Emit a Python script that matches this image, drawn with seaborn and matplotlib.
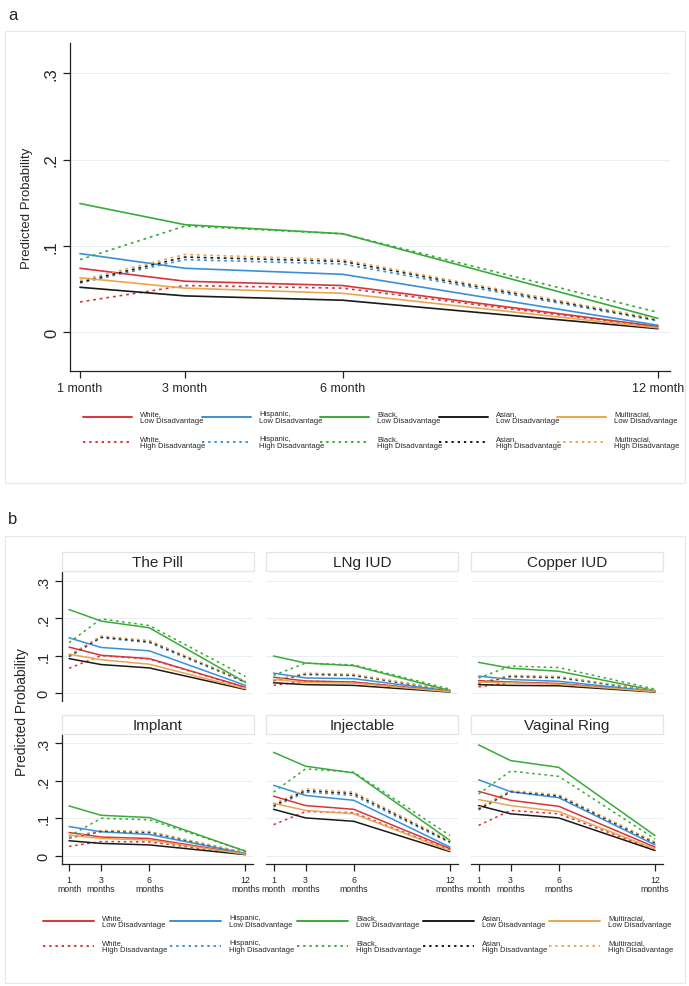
import numpy as np
import pandas as pd
import seaborn as sns
import matplotlib
matplotlib.use("Agg")
import matplotlib.pyplot as plt
from matplotlib.lines import Line2D
from matplotlib.patches import Rectangle

sns.set_theme(style="white")
plt.rcParams['font.family'] = ['Liberation Sans', 'DejaVu Sans']

# ---------------- data ----------------
months = [1, 3, 6, 12]
races = ["White", "Hispanic", "Black", "Asian", "Multiracial"]
levels = ["Low", "High"]
panel_a_ticklabels = ["1 month", "3 month", "6 month", "12 month"]
panel_b_ticklabels = ["1\nmonth", "3\nmonths", "6\nmonths", "12\nmonths"]
y_ticks = [0, 0.1, 0.2, 0.3]
y_ticklabels = ["0", ".1", ".2", ".3"]

# panel a (any method)
a_low = {
    "White":       [0.074, 0.059, 0.054, 0.0065],
    "Hispanic":    [0.091, 0.074, 0.067, 0.008],
    "Black":       [0.149, 0.1245, 0.114, 0.016],
    "Asian":       [0.052, 0.042, 0.037, 0.004],
    "Multiracial": [0.063, 0.051, 0.045, 0.005],
}
a_high = {
    "White":       [0.035, 0.054, 0.051, 0.006],
    "Hispanic":    [0.057, 0.084, 0.079, 0.013],
    "Black":       [0.084, 0.123, 0.114, 0.023],
    "Asian":       [0.058, 0.087, 0.082, 0.014],
    "Multiracial": [0.060, 0.090, 0.084, 0.015],
}

methods = ["The Pill", "LNg IUD", "Copper IUD", "Implant", "Injectable", "Vaginal Ring"]

pill_low = {"White": [0.123, 0.101, 0.092, 0.015], "Hispanic": [0.148, 0.122, 0.113, 0.020],
            "Black": [0.224, 0.193, 0.175, 0.028], "Asian": [0.092, 0.076, 0.067, 0.009],
            "Multiracial": [0.104, 0.089, 0.077, 0.011]}
pill_high = {"White": [0.066, 0.100, 0.091, 0.014], "Hispanic": [0.097, 0.148, 0.135, 0.028],
             "Black": [0.135, 0.199, 0.181, 0.044], "Asian": [0.099, 0.150, 0.138, 0.030],
             "Multiracial": [0.101, 0.153, 0.141, 0.031]}

lng_low = {"White": [0.042, 0.032, 0.029, 0.004], "Hispanic": [0.053, 0.040, 0.038, 0.005],
           "Black": [0.099, 0.080, 0.073, 0.006], "Asian": [0.027, 0.022, 0.020, 0.002],
           "Multiracial": [0.036, 0.028, 0.026, 0.003]}
lng_high = {"White": [0.020, 0.031, 0.029, 0.003], "Hispanic": [0.032, 0.049, 0.046, 0.006],
            "Black": [0.047, 0.080, 0.075, 0.010], "Asian": [0.033, 0.051, 0.048, 0.007],
            "Multiracial": [0.034, 0.053, 0.050, 0.007]}

copper_low = {"White": [0.033, 0.029, 0.025, 0.003], "Hispanic": [0.045, 0.036, 0.031, 0.004],
              "Black": [0.082, 0.066, 0.058, 0.006], "Asian": [0.022, 0.020, 0.019, 0.002],
              "Multiracial": [0.029, 0.027, 0.023, 0.003]}
copper_high = {"White": [0.016, 0.028, 0.024, 0.003], "Hispanic": [0.026, 0.043, 0.040, 0.005],
               "Black": [0.040, 0.072, 0.068, 0.010], "Asian": [0.027, 0.045, 0.042, 0.006],
               "Multiracial": [0.028, 0.047, 0.044, 0.006]}

implant_low = {"White": [0.062, 0.050, 0.046, 0.005], "Hispanic": [0.078, 0.064, 0.057, 0.006],
               "Black": [0.133, 0.108, 0.102, 0.012], "Asian": [0.040, 0.033, 0.029, 0.003],
               "Multiracial": [0.055, 0.046, 0.042, 0.004]}
implant_high = {"White": [0.025, 0.038, 0.037, 0.004], "Hispanic": [0.047, 0.064, 0.061, 0.007],
                "Black": [0.052, 0.100, 0.096, 0.013], "Asian": [0.048, 0.066, 0.063, 0.008],
                "Multiracial": [0.049, 0.068, 0.065, 0.008]}

inject_low = {"White": [0.159, 0.134, 0.124, 0.019], "Hispanic": [0.188, 0.161, 0.148, 0.023],
              "Black": [0.276, 0.239, 0.221, 0.041], "Asian": [0.124, 0.101, 0.092, 0.011],
              "Multiracial": [0.140, 0.121, 0.112, 0.013]}
inject_high = {"White": [0.083, 0.118, 0.115, 0.015], "Hispanic": [0.130, 0.170, 0.161, 0.035],
               "Black": [0.170, 0.232, 0.223, 0.054], "Asian": [0.134, 0.174, 0.166, 0.037],
               "Multiracial": [0.138, 0.179, 0.170, 0.040]}

ring_low = {"White": [0.172, 0.148, 0.132, 0.023], "Hispanic": [0.203, 0.171, 0.155, 0.029],
            "Black": [0.296, 0.254, 0.236, 0.054], "Asian": [0.134, 0.112, 0.101, 0.014],
            "Multiracial": [0.150, 0.134, 0.118, 0.018]}
ring_high = {"White": [0.081, 0.121, 0.112, 0.016], "Hispanic": [0.122, 0.170, 0.158, 0.033],
             "Black": [0.165, 0.226, 0.212, 0.045], "Asian": [0.125, 0.172, 0.160, 0.035],
             "Multiracial": [0.128, 0.174, 0.163, 0.037]}

panel_b_data = {
    "The Pill": (pill_low, pill_high),
    "LNg IUD": (lng_low, lng_high),
    "Copper IUD": (copper_low, copper_high),
    "Implant": (implant_low, implant_high),
    "Injectable": (inject_low, inject_high),
    "Vaginal Ring": (ring_low, ring_high),
}

palette = {"White": "#d8353b", "Hispanic": "#3b8fd6", "Black": "#3aaa3a",
           "Asian": "#1a1a1a", "Multiracial": "#e8a650"}
dashes = {"Low": "", "High": (1.7, 2.3)}


def to_long(low, high):
    rows = []
    for lev, d in (("Low", low), ("High", high)):
        for r in races:
            for m, v in zip(months, d[r]):
                rows.append({"month": m, "prob": v, "race": r, "level": lev})
    return pd.DataFrame(rows)


W, H = 689, 987
fig = plt.figure(figsize=(W / 100, H / 100), dpi=100)
fig.patch.set_facecolor("white")


def fx(x):
    return x / W


def fy(y):
    return 1 - y / H


def rect_px(x0, y0, x1, y1, **kw):
    fig.add_artist(Rectangle((fx(x0), fy(y1)), fx(x1) - fx(x0), fy(y0) - fy(y1),
                             transform=fig.transFigure, **kw))


grid_col = "#eaeff2"
spine_col = "#222222"

# panel borders
rect_px(5, 32, 685, 484, facecolor="none", edgecolor="#e3e9ec", lw=0.9)
rect_px(5, 537, 685, 984, facecolor="none", edgecolor="#e3e9ec", lw=0.9)
fig.text(fx(8), fy(16), "a", fontsize=12, va="center", ha="left")
fig.text(fx(8), fy(520), "b", fontsize=12, va="center", ha="left")


def style_axes(ax, xlim, ylim, show_y, show_x, xticklabels, xfs, yfs):
    ax.set_xlim(*xlim)
    ax.set_ylim(*ylim)
    ax.set_facecolor("none")
    for s in ["top", "right"]:
        ax.spines[s].set_visible(False)
    ax.spines["left"].set_visible(show_y)
    ax.spines["bottom"].set_visible(show_x)
    for s in ["left", "bottom"]:
        ax.spines[s].set_color(spine_col)
        ax.spines[s].set_linewidth(0.9)
    ax.grid(False)
    for yv in y_ticks:
        ax.axhline(yv, color=grid_col, lw=0.8, zorder=0)
    ax.set_yticks(y_ticks)
    ax.set_xticks(months)
    ax.set_xlabel("")
    ax.set_ylabel("")
    if show_y:
        ax.set_yticklabels(y_ticklabels, rotation=90, va="center", fontsize=yfs)
        ax.tick_params(axis="y", left=True, length=5, width=0.9, color=spine_col, pad=3)
    else:
        ax.tick_params(axis="y", left=False, labelleft=False)
    if show_x:
        ax.set_xticklabels(xticklabels, fontsize=xfs, linespacing=0.95)
        ax.tick_params(axis="x", bottom=True, length=5, width=0.9, color=spine_col, pad=3)
    else:
        ax.tick_params(axis="x", bottom=False, labelbottom=False)


# ---------------- panel a ----------------
axa = fig.add_axes([fx(70), fy(372), fx(670) - fx(70), fy(44) - fy(372)])
dfa = to_long(a_low, a_high)
sns.lineplot(data=dfa, x="month", y="prob", hue="race", style="level",
             hue_order=races, style_order=levels, palette=palette, dashes=dashes,
             lw=1.2, legend=False, ax=axa)
style_axes(axa, (0.81, 12.23), (-0.045, 0.335), True, True, panel_a_ticklabels, 9, 12)
fig.text(fx(27), fy(208), "Predicted Probability", rotation=90, fontsize=9.5,
         va="center", ha="center")


def draw_legend(row_y, starts, length, text_off, fs):
    for i, r in enumerate(races):
        for j, lev in enumerate(levels):
            y = row_y[j]
            x0 = starts[i]
            fig.add_artist(Line2D([fx(x0), fx(x0 + length)], [fy(y), fy(y)],
                                  transform=fig.transFigure, color=palette[r], lw=1.4,
                                  dashes=(1.2, 2.0) if lev == "High" else (None, None)))
            fig.text(fx(x0 + text_off), fy(y), f"{r},\n{lev} Disadvantage",
                     fontsize=fs, va="center", ha="left", linespacing=1.05)


draw_legend([418, 443], [83, 202, 320, 439, 557], 49, 57, 5.5)

# ---------------- panel b ----------------
col_left = [61.5, 266, 471]
col_w = 192
rows_y = [(573, 702), (735, 865)]
title_y = [(553, 572), (716, 735)]
for k, meth in enumerate(methods):
    r, c = divmod(k, 3)
    x0 = col_left[c]
    ytop, ybot = rows_y[r]
    ax = fig.add_axes([fx(x0), fy(ybot), fx(x0 + col_w) - fx(x0), fy(ytop) - fy(ybot)])
    low, high = panel_b_data[meth]
    dfb = to_long(low, high)
    sns.lineplot(data=dfb, x="month", y="prob", hue="race", style="level",
                 hue_order=races, style_order=levels, palette=palette, dashes=dashes,
                 lw=1.1, legend=False, ax=ax)
    style_axes(ax, (0.53, 12.5), (-0.022, 0.325), c == 0, r == 1,
               panel_b_ticklabels, 6.3, 10.5)
    t0, t1 = title_y[r]
    rect_px(x0, t0, x0 + col_w, t1, facecolor="white", edgecolor="#dfe5e9", lw=0.9)
    fig.text(fx(x0 + col_w / 2), fy((t0 + t1) / 2 + 0.5), meth, fontsize=11,
             ha="center", va="center")

fig.text(fx(22), fy(712), "Predicted Probability", rotation=90, fontsize=10,
         va="center", ha="center")

draw_legend([922, 947], [43, 170, 297, 423, 549], 51, 59, 5.5)

fig.savefig("out.png", dpi=100, facecolor="white")
